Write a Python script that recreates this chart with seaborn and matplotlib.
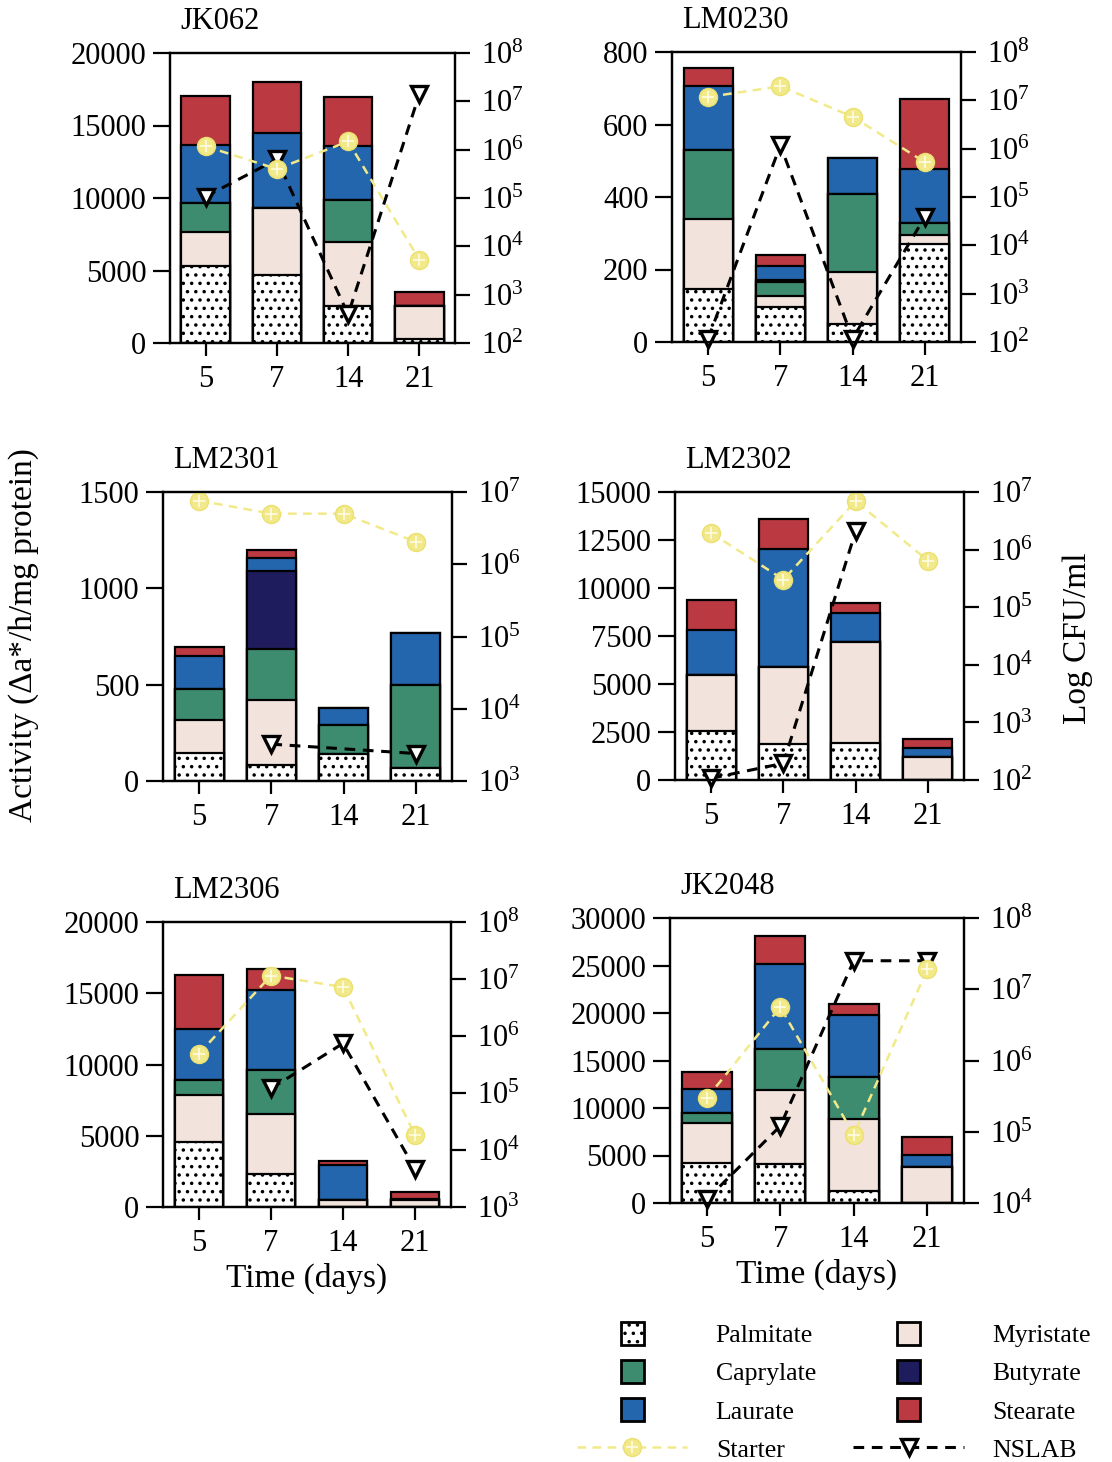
import numpy as np
import pandas as pd
import matplotlib.pyplot as plt
import matplotlib.patches as mpatches
from matplotlib.lines import Line2D
from matplotlib.legend_handler import HandlerPatch, HandlerTuple
from matplotlib.ticker import FuncFormatter, NullLocator
import seaborn as sns

sns.set_style("ticks")
plt.rcParams["font.family"] = ["Liberation Serif", "DejaVu Serif"]
plt.rcParams["mathtext.fontset"] = "custom"
plt.rcParams["mathtext.rm"] = "Liberation Serif"
plt.rcParams["hatch.linewidth"] = 1.3
for k in ["text.color", "axes.edgecolor", "xtick.color", "ytick.color",
          "axes.labelcolor", "xtick.labelcolor", "ytick.labelcolor"]:
    plt.rcParams[k] = "black"

strains = ["JK062", "LM0230", "LM2301", "LM2302", "LM2306", "JK2048"]
days = ["5", "7", "14", "21"]

# lipase activity per substrate, one row per strain (days 5, 7, 14, 21)
palmitate = [[5300, 4700, 2550, 300], [147, 97, 49, 271], [143, 83, 138, 69],
             [2550, 1900, 1950, 0], [4550, 2350, 0, 0], [4200, 4100, 1300, 0]]
myristate = [[2350, 4600, 4400, 2250], [191, 29, 144, 23], [173, 337, 0, 0],
             [2900, 4000, 5250, 1200], [3300, 4150, 470, 470], [4200, 7800, 7550, 3750]]
caprylate = [[2000, 0, 2900, 0], [191, 40, 216, 34], [164, 263, 152, 429],
             [0, 0, 0, 0], [1080, 3100, 0, 0], [1100, 4300, 4400, 0]]
butyrate = [[0, 0, 0, 0], [0, 5, 0, 0], [0, 407, 0, 0],
            [0, 0, 0, 0], [0, 0, 0, 0], [0, 0, 0, 0]]
laurate = [[4000, 5150, 3750, 0], [178, 38, 99, 150], [168, 70, 87, 271],
           [2350, 6150, 1500, 450], [3560, 5600, 2450, 120], [2450, 8950, 6500, 1300]]
stearate = [[3400, 3550, 3350, 950], [49, 30, 0, 193], [45, 38, 0, 0],
            [1600, 1550, 500, 500], [3810, 1520, 300, 460], [1850, 2950, 1200, 1950]]

# log10 CFU/ml
starter_log = [[6.07, 5.60, 6.17, 3.72], [7.07, 7.29, 6.66, 5.72], [6.88, 6.70, 6.70, 6.31],
               [6.29, 5.48, 6.84, 5.81], [5.69, 7.06, 6.86, 4.26], [5.47, 6.75, 4.96, 7.28]]
nslab_log = [[5.03, 5.80, 2.59, 7.15], [2.07, 6.07, 2.07, 4.59], [np.nan, 3.51, np.nan, 3.38],
             [2.03, 2.29, 6.32, np.nan], [np.nan, 5.08, 5.87, 3.67], [4.05, 5.08, 7.40, 7.40]]

act_max = [20000, 800, 1500, 15000, 20000, 30000]
act_step = [5000, 200, 500, 2500, 5000, 5000]
log_range = [(2, 8), (2, 8), (3, 7), (2, 7), (3, 8), (4, 8)]

acids = ["Palmitate", "Myristate", "Caprylate", "Butyrate", "Laurate", "Stearate"]
acid_values = [palmitate, myristate, caprylate, butyrate, laurate, stearate]
acid_colors = ["white", "#f2e3dd", "#3e8c70", "#1f1c5e", "#2466ad", "#bb3a42"]
starter_color = "#f2ea8a"

W, H = 1112, 1462
# panel boxes in pixels: left, right, top, bottom
boxes = [(170, 455, 53, 343), (672, 961, 52, 342),
         (163, 452, 492, 781), (675, 964, 492, 780),
         (163, 451, 922, 1207), (670, 964, 918, 1203)]

fig = plt.figure(figsize=(W / 100, H / 100), dpi=100)

for i, strain in enumerate(strains):
    l, r, t, b = boxes[i]
    ax = fig.add_axes([l / W, 1 - b / H, (r - l) / W, (b - t) / H])
    df = pd.DataFrame({a: v[i] for a, v in zip(acids, acid_values)})
    df["Day"] = days
    cum = df[acids].cumsum(axis=1)
    for a, c in reversed(list(zip(acids, acid_colors))):
        sns.barplot(x=df["Day"], y=cum[a], color=c, saturation=1, width=0.68,
                    edgecolor="black", linewidth=1.6, errorbar=None,
                    hatch=".." if a == "Palmitate" else None, ax=ax)
    ax.set_ylim(0, act_max[i])
    ax.set_yticks(np.arange(0, act_max[i] + 1, act_step[i]))
    ax.set_xlabel("")
    ax.set_ylabel("")
    ax.tick_params(axis="y", length=12, width=1.6, pad=5, labelsize=22)
    ax.tick_params(axis="x", length=9.5, width=1.6, pad=6, labelsize=22)
    for s in ax.spines.values():
        s.set_linewidth(1.6)

    ax2 = ax.twinx()
    ax2.set_yscale("log")
    ns = pd.DataFrame({"x": range(4), "cfu": 10.0 ** np.array(nslab_log[i])}).dropna()
    st = pd.DataFrame({"x": range(4), "cfu": 10.0 ** np.array(starter_log[i])}).dropna()
    sns.lineplot(data=ns, x="x", y="cfu", ax=ax2, color="black", linewidth=2.2,
                 linestyle=(0, (3.5, 2.5)), marker="v", markersize=12,
                 markerfacecolor="white", markeredgecolor="black",
                 markeredgewidth=2.4, clip_on=False)
    sns.lineplot(data=st, x="x", y="cfu", ax=ax2, color=starter_color, linewidth=1.8,
                 linestyle=(0, (3.5, 2.5)), marker="o", markersize=13,
                 markerfacecolor=starter_color, markeredgecolor="#ebe070",
                 markeredgewidth=1, clip_on=False)
    sns.lineplot(data=st, x="x", y="cfu", ax=ax2, linestyle="none", marker="+",
                 markersize=9, markeredgecolor="#fffbe4", markeredgewidth=1.2,
                 clip_on=False)
    lo, hi = log_range[i]
    ax2.set_ylim(10.0 ** lo, 10.0 ** hi)
    ax2.set_yticks([10.0 ** k for k in range(lo, hi + 1)])
    ax2.yaxis.set_minor_locator(NullLocator())
    ax2.yaxis.set_major_formatter(FuncFormatter(
        lambda v, p: r"$\mathregular{10^{%d}}$" % round(np.log10(v))))
    ax2.tick_params(axis="y", length=11, width=1.6, pad=8, labelsize=22)
    for s in ax2.spines.values():
        s.set_linewidth(1.6)
    ax2.set_xlabel("")
    ax2.set_ylabel("")
    ax.set_xlim(-0.5, 3.5)

    ax.text(0.035, 1.06, strain, transform=ax.transAxes, ha="left", va="bottom",
            fontsize=22)
    if i >= 4:
        ax.set_xlabel("Time (days)", fontsize=24, labelpad=4)

fig.text(24 / W, 1 - 635 / H, "Activity (\u0394a*/h/mg protein)", rotation=90,
         ha="center", va="center", fontsize=24)
fig.text(1078 / W, 1 - 638 / H, "Log CFU/ml", rotation=90,
         ha="center", va="center", fontsize=24)


def square(legend, orig_handle, xdescent, ydescent, width, height, fontsize):
    s = height
    return mpatches.Rectangle((-xdescent + (width - s) / 2, -ydescent + (height - s) / 2), s, s)


patches = {a: mpatches.Patch(facecolor=c, edgecolor="black", linewidth=2,
                             hatch=".." if a == "Palmitate" else None)
           for a, c in zip(acids, acid_colors)}
starter_h = (Line2D([], [], color=starter_color, linewidth=1.8, linestyle=(0, (3.5, 2.5)),
                    marker="o", markersize=13, markerfacecolor=starter_color,
                    markeredgecolor="#ebe070"),
             Line2D([], [], linestyle="none", marker="+", markersize=9,
                    markeredgecolor="#fffbe4", markeredgewidth=1.2))
nslab_h = Line2D([], [], color="black", linewidth=2.2, linestyle=(0, (3.5, 2.5)),
                 marker="v", markersize=12, markerfacecolor="white",
                 markeredgecolor="black", markeredgewidth=2.4)

handles = [patches["Palmitate"], patches["Caprylate"], patches["Laurate"], starter_h,
           patches["Myristate"], patches["Butyrate"], patches["Stearate"], nslab_h]
labels = ["Palmitate", "Caprylate", "Laurate", "Starter",
          "Myristate", "Butyrate", "Stearate", "NSLAB"]
fig.legend(handles, labels, ncol=2, loc="upper left",
           bbox_to_anchor=(577 / W, 1 - 1322 / H), frameon=False, fontsize=18.5,
           handlelength=4.3, handleheight=1.0, handletextpad=1.1, columnspacing=1.45,
           labelspacing=0.5, borderpad=0, borderaxespad=0,
           handler_map={mpatches.Patch: HandlerPatch(patch_func=square),
                        tuple: HandlerTuple(ndivide=1, pad=0)})

fig.savefig("out.png", dpi=100, facecolor="white")
